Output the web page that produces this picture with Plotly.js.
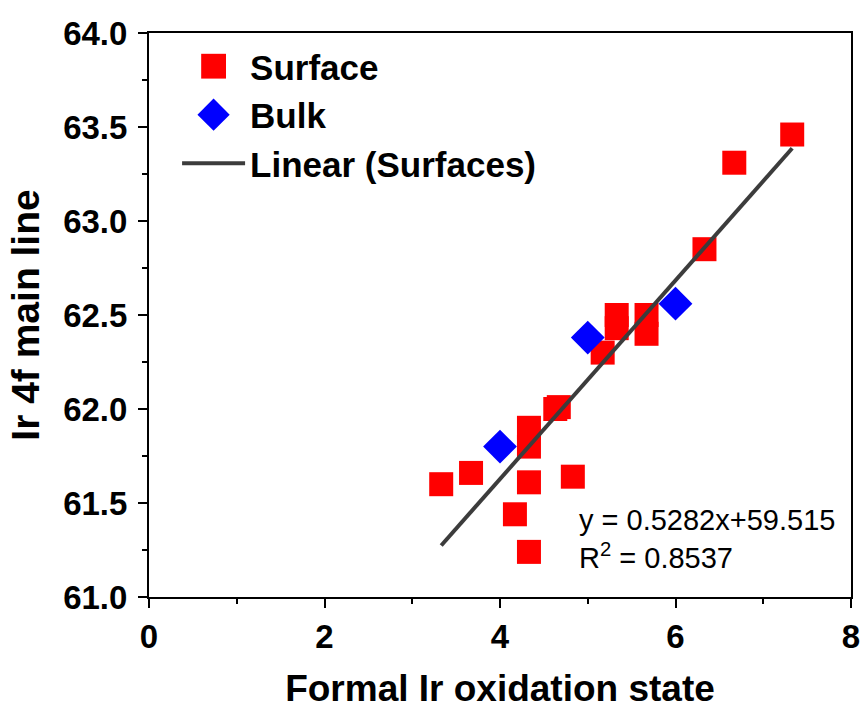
<!DOCTYPE html>
<html>
<head>
<meta charset="utf-8">
<script src="https://cdn.plot.ly/plotly-3.0.1.min.js"></script>
<style>html,body{margin:0;padding:0;background:#fff;}#chart{width:861px;height:711px;}</style>
</head>
<body>
<div id="chart"></div>
<script>
// Surface data (formal Ir oxidation state, Ir 4f main line)
const surfaceX = [3.33, 3.67, 4.33, 4.33, 4.33, 4.17, 4.33, 4.83, 4.63, 4.67, 5.17, 5.33, 5.33, 5.67, 5.67, 6.33, 6.67, 7.33];
const surfaceY = [61.60, 61.66, 61.90, 61.80, 61.61, 61.44, 61.24, 61.64, 62.00, 62.01, 62.30, 62.50, 62.43, 62.50, 62.40, 62.85, 63.31, 63.46];
// Bulk data
const bulkX = [4, 5, 6];
const bulkY = [61.80, 62.38, 62.56];
// Linear fit of surfaces
const fitSlope = 0.5282;
const fitIntercept = 59.515;
const fitR2 = 0.8537;

const FONT = "Liberation Sans, Arial, sans-serif";
const xMin = Math.min(...surfaceX), xMax = Math.max(...surfaceX);
const fitX = [xMin, xMax];
const fitY = fitX.map(x => fitSlope * x + fitIntercept);

const traces = [
  {x: surfaceX, y: surfaceY, type: 'scatter', mode: 'markers', name: 'Surface',
   marker: {symbol: 'square', size: 24, color: '#ff0000'}},
  {x: bulkX, y: bulkY, type: 'scatter', mode: 'markers', name: 'Bulk',
   marker: {symbol: 'diamond', size: 26, color: '#0000ff'}},
  {x: fitX, y: fitY, type: 'scatter', mode: 'lines', name: 'Linear (Surfaces)',
   line: {color: '#3c3c3c', width: 4}}
];

const layout = {
  width: 861, height: 711,
  margin: {l: 149, r: 10, t: 33, b: 114},
  paper_bgcolor: '#fff', plot_bgcolor: '#fff',
  font: {family: FONT, color: '#000'},
  showlegend: true,
  legend: {x: 0.04, y: 0.993, xanchor: 'left', yanchor: 'top', bgcolor: 'rgba(0,0,0,0)',
           font: {family: FONT, size: 35, color: '#000', weight: 'bold'}, itemwidth: 63,
           tracegroupgap: 0},
  xaxis: {
    range: [0, 8], dtick: 2, tick0: 0, showgrid: false, zeroline: false,
    showline: true, linecolor: '#000', linewidth: 2, mirror: true,
    ticks: 'outside', ticklen: 9, tickwidth: 2, tickcolor: '#000',
    minor: {dtick: 1, ticks: 'outside', ticklen: 5, tickwidth: 2, tickcolor: '#000', showgrid: false},
    tickfont: {family: FONT, size: 33, weight: 'bold'},
    title: {text: 'Formal Ir oxidation state', font: {family: FONT, size: 37, weight: 'bold'}, standoff: 22}
  },
  yaxis: {
    range: [61, 64], dtick: 0.5, tick0: 61, tickformat: '.1f', showgrid: false, zeroline: false,
    showline: true, linecolor: '#000', linewidth: 2, mirror: true,
    ticks: 'outside', ticklen: 9, tickwidth: 2, tickcolor: '#000',
    minor: {dtick: 0.25, ticks: 'outside', ticklen: 5, tickwidth: 2, tickcolor: '#000', showgrid: false},
    tickfont: {family: FONT, size: 33, weight: 'bold'},
    ticklabelstandoff: 4,
    title: {text: 'Ir 4f main line', font: {family: FONT, size: 39, weight: 'bold'}, standoff: 12}
  },
  annotations: [{
    xref: 'x', yref: 'y', x: 4.88, y: 61.31, xanchor: 'left', yanchor: 'middle', align: 'left',
    showarrow: false,
    text: 'y = ' + fitSlope + 'x+' + fitIntercept + '<br>R<sup>2</sup> = ' + fitR2,
    font: {family: FONT, size: 29, color: '#000'}
  }]
};

Plotly.newPlot('chart', traces, layout, {displayModeBar: false, staticPlot: true}).then(function(gd){
  // enlarge legend symbols to match marker size in plot
  gd.querySelectorAll('.legend .legendpoints path.scatterpts').forEach(function(p){
    const t = p.getAttribute('transform') || '';
    p.setAttribute('transform', t + ' scale(1.55)');
  });
});
</script>
</body>
</html>
